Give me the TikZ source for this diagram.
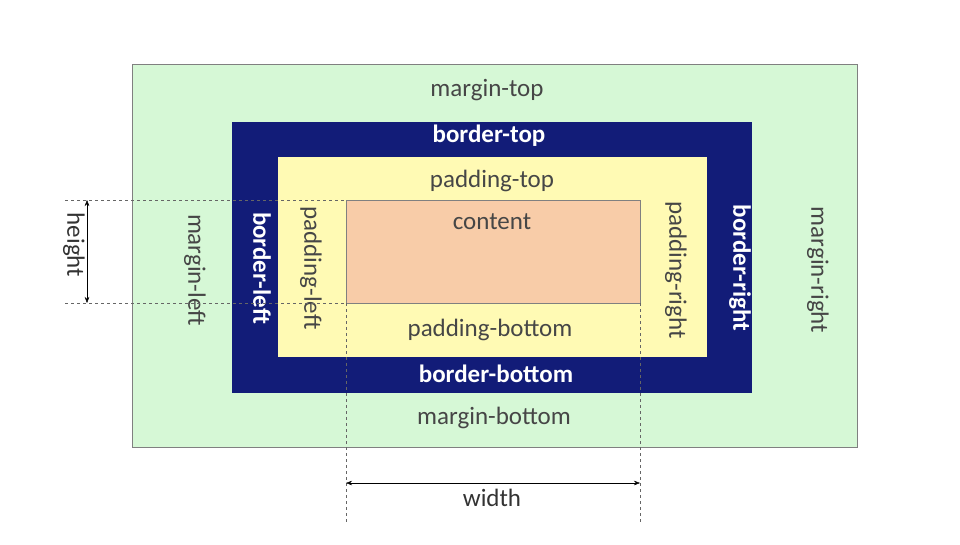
\documentclass[tikz,border=0pt]{standalone}
\usepackage{fontspec}
\setmainfont{Carlito}
\usetikzlibrary{positioning,arrows.meta}
\definecolor{marginfill}{RGB}{214,248,214}
\definecolor{bordernavy}{RGB}{18,28,120}
\definecolor{paddingfill}{RGB}{255,250,180}
\definecolor{contentfill}{RGB}{248,204,168}
\definecolor{labelgray}{RGB}{70,70,70}

\begin{document}
\begin{tikzpicture}[x=1pt, y=-1pt,
  lbl/.style={font=\fontsize{25}{27}\selectfont, text=labelgray},
  wlbl/.style={font=\fontsize{25}{27}\selectfont\bfseries, text=white},
  guide/.style={dashed, gray!80!black, thin},
  dimarrow/.style={{Stealth[length=6pt]}-{Stealth[length=6pt]}, black}]
\useasboundingbox (0,0) rectangle (960,544);

% Boxes
\draw[gray, fill=marginfill] (132,64) rectangle (857,447);
\fill[bordernavy] (232,122) rectangle (752,393);
\fill[paddingfill] (278,157) rectangle (707,357);
\draw[gray, fill=contentfill] (346,200) rectangle (640,303);

% Horizontal labels
\node[lbl] (mtop) at (487,90) {margin-top};
\node[wlbl] (btop) at (489,136) {border-top};
\node[lbl] (ptop) at (492,181) {padding-top};
\node[lbl] (content) at (492,222) {content};
\node[lbl] (pbottom) at (490,330) {padding-bottom};
\node[wlbl] (bbottom) at (496,374) {border-bottom};
\node[lbl] (mbottom) at (494,418) {margin-bottom};

% Vertical labels
\node[lbl, rotate=-90] (mleft) at (195,270) {margin-left};
\node[wlbl, rotate=-90] (bleft) at (262,268) {border-left};
\node[lbl, rotate=-90] (pleft) at (311,268) {padding-left};
\node[lbl, rotate=-90] (pright) at (676,270) {padding-right};
\node[wlbl, rotate=-90] (bright) at (740,268) {border-right};
\node[lbl, rotate=-90] (mright) at (818,270) {margin-right};

% Guides
\coordinate (htop) at (65,200);
\coordinate (hbot) at (65,303);
\coordinate (ctl) at (346,200);
\coordinate (cbl) at (346,303);
\coordinate (cbr) at (640,303);
\coordinate (wl) at (346,522);
\coordinate (wr) at (640,522);
\draw[guide] (htop) -- (ctl);
\draw[guide] (hbot) -- (cbl);
\draw[guide] (cbl) -- (wl);
\draw[guide] (cbr) -- (wr);

% Dimensions
\coordinate (ha) at (87,200);
\coordinate (hb) at (87,303);
\draw[dimarrow] (ha) -- (hb);
\node[lbl, text=black!80, rotate=-90] (height) at (74,245) {height};
\coordinate (wa) at (346,483);
\coordinate (wb) at (640,483);
\draw[dimarrow] (wa) -- (wb);
\node[lbl, text=black!80] (width) at (492,498) {width};
\end{tikzpicture}
\end{document}
